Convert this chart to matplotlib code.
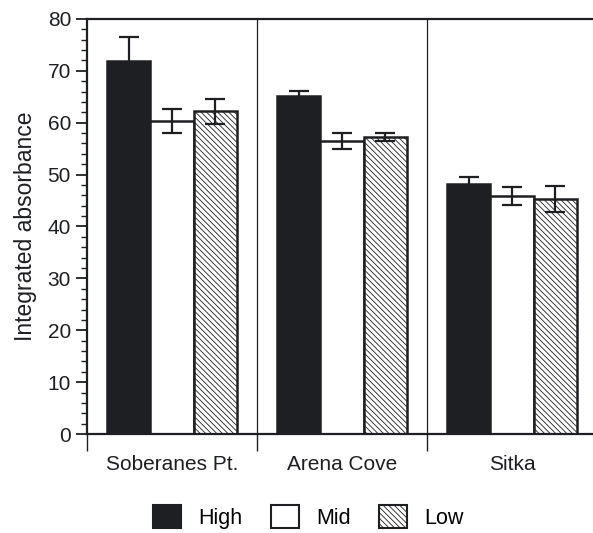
import matplotlib.pyplot as plt
from matplotlib.patches import Patch
from matplotlib.ticker import MultipleLocator
import numpy as np

plt.rcParams['font.family'] = ['Liberation Sans', 'DejaVu Sans']
plt.rcParams['hatch.linewidth'] = 0.6
plt.rcParams['hatch.color'] = '#333333'

sites = ["Soberanes Pt.", "Arena Cove", "Sitka"]
levels = ["High", "Mid", "Low"]
high = [71.9, 65.1, 48.1]
high_err = [4.6, 1.1, 1.5]
mid = [60.3, 56.5, 45.9]
mid_err = [2.3, 1.6, 1.8]
low = [62.2, 57.3, 45.3]
low_err = [2.4, 0.8, 2.5]

dark = '#1e1f22'
fig = plt.figure(figsize=(5.93, 5.33), dpi=100)
ax = fig.add_axes([0.1467, 0.1857, 0.86, 0.7787])

x = np.arange(len(sites))
w = 0.254
styles = [(high, high_err, dark, None), (mid, mid_err, 'white', None), (low, low_err, 'white', '\\\\\\\\\\\\')]
for i, (vals, errs, col, hatch) in enumerate(styles):
    ax.bar(x + (i - 1) * w, vals, w, color=col, edgecolor=dark, linewidth=1.8, hatch=hatch, zorder=2)
    ax.errorbar(x + (i - 1) * w, vals, yerr=errs, fmt='none', ecolor=dark,
                elinewidth=1.6, capsize=7.5, capthick=1.6, zorder=3)

# separators between sites
for s in [0.5, 1.5]:
    ax.axvline(s, color=dark, linewidth=0.9, zorder=1)

ax.set_xlim(-0.5, 2.5)
ax.set_ylim(0, 80)
ax.yaxis.set_major_locator(MultipleLocator(10))
ax.yaxis.set_minor_locator(MultipleLocator(2))
ax.tick_params(axis='y', which='major', direction='out', length=8, width=1.3, labelsize=15, colors=dark)
ax.tick_params(axis='y', which='minor', direction='out', length=4, width=1.0, colors=dark)

ax.set_xticks([-0.5, 0.5, 1.5, 2.5])
ax.set_xticklabels([])
ax.tick_params(axis='x', which='major', direction='out', length=12, width=1.0, colors=dark)
for xi, name in zip(x, sites):
    ax.text(xi, -4.0, name, ha='center', va='top', fontsize=15, color=dark)

ax.set_ylabel("Integrated absorbance", fontsize=16.5, color=dark, labelpad=8)
ax.spines['right'].set_visible(False)
for sp in ['left', 'bottom', 'top']:
    ax.spines[sp].set_linewidth(1.6)
    ax.spines[sp].set_color(dark)

handles = [Patch(facecolor=dark, edgecolor=dark, linewidth=1.5),
           Patch(facecolor='white', edgecolor=dark, linewidth=1.5),
           Patch(facecolor='white', edgecolor=dark, linewidth=1.5, hatch='\\\\\\\\\\\\')]
fig.legend(handles, levels, loc='lower center', bbox_to_anchor=(0.52, -0.028), ncol=3,
           frameon=False, fontsize=15.5, handlelength=1.3, handleheight=1.3,
           columnspacing=1.3, handletextpad=0.8)

fig.savefig('out.png', dpi=100)
